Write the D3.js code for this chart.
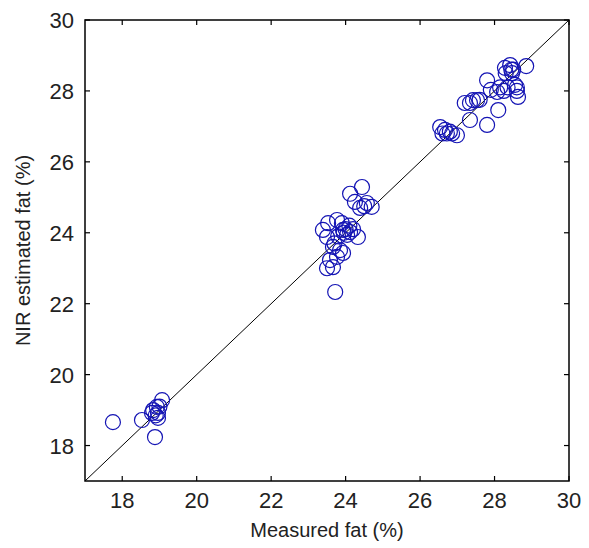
<!DOCTYPE html>
<html>
<head>
<meta charset="utf-8">
<script src="https://cdn.jsdelivr.net/npm/d3@7"></script>
<style>
  body { margin: 0; background: #fff; }
  text { font-family: "Liberation Sans", Arial, sans-serif; fill: #222; }
</style>
</head>
<body>
<div id="viz"></div>
<script>
(function () {
  // measured fat (%) vs NIR estimated fat (%)
  var measured = [
    17.75, 18.53, 18.88, 19.07, 18.93, 18.83, 18.96, 18.96, 18.80, 19.00, 18.90,
    23.72,
    24.44, 24.12, 24.57, 24.70, 24.39, 24.25, 23.53, 23.77, 23.93, 24.12,
    24.04, 24.33, 23.90, 23.39, 23.50, 23.66, 23.85, 23.77, 23.58, 23.50,
    23.66, 23.93, 24.00, 24.10, 23.95, 24.20, 23.70, 23.80, 24.50,
    26.54, 26.67, 26.86, 26.99, 26.72, 26.60, 26.80,
    28.85, 28.42, 28.47, 28.28, 28.60, 28.63, 28.55, 27.80, 28.15, 28.07,
    27.90, 28.10, 27.80, 27.42, 27.34, 27.53, 27.20, 27.34, 28.60, 28.50,
    28.30, 28.45, 28.35, 28.25, 27.60
  ];
  var estimated = [
    18.66, 18.72, 18.24, 19.28, 19.09, 19.00, 18.92, 18.78, 18.92, 19.10, 18.85,
    22.33,
    25.29, 25.10, 24.84, 24.73, 24.70, 24.87, 24.27, 24.36, 24.08, 24.02,
    23.94, 23.88, 24.27, 24.08, 23.88, 23.60, 23.51, 23.32, 23.23, 23.00,
    23.03, 23.43, 24.10, 24.20, 24.00, 24.10, 23.70, 23.90, 24.75,
    26.98, 26.90, 26.80, 26.75, 26.80, 26.80, 26.85,
    28.70, 28.73, 28.50, 28.65, 28.00, 27.83, 28.17, 28.30, 28.10, 27.97,
    28.03, 27.46, 27.04, 27.74, 27.66, 27.74, 27.66, 27.18, 28.10, 28.60,
    28.50, 28.60, 28.10, 28.00, 27.75
  ];
  var ticks = [18, 20, 22, 24, 26, 28, 30];
  var xLabel = 'Measured fat (%)';
  var yLabel = 'NIR estimated fat (%)';

  var width = 589, height = 548;
  var left = 85, right = 569, top = 20, bottom = 481;

  var svg = d3.select('#viz').append('svg')
    .attr('width', width)
    .attr('height', height);

  var x = d3.scaleLinear().domain([17, 30]).range([left, right]);
  var y = d3.scaleLinear().domain([17, 30]).range([bottom, top]);

  // frame
  svg.append('rect')
    .attr('x', left).attr('y', top)
    .attr('width', right - left).attr('height', bottom - top)
    .attr('fill', '#fff')
    .attr('stroke', '#000')
    .attr('stroke-width', 1.5);

  // inward ticks on all sides
  var tl = 5;
  var tk = svg.append('g').attr('stroke', '#000').attr('stroke-width', 1.2);
  ticks.forEach(function (t) {
    tk.append('line').attr('x1', x(t)).attr('x2', x(t)).attr('y1', bottom).attr('y2', bottom - tl);
    tk.append('line').attr('x1', x(t)).attr('x2', x(t)).attr('y1', top).attr('y2', top + tl);
    tk.append('line').attr('y1', y(t)).attr('y2', y(t)).attr('x1', left).attr('x2', left + tl);
    tk.append('line').attr('y1', y(t)).attr('y2', y(t)).attr('x1', right).attr('x2', right - tl);
  });

  svg.append('g').selectAll('text')
    .data(ticks).enter().append('text')
    .attr('x', function (d) { return x(d); })
    .attr('y', bottom + 27)
    .attr('text-anchor', 'middle')
    .attr('font-size', 22)
    .text(function (d) { return d; });

  svg.append('g').selectAll('text')
    .data(ticks).enter().append('text')
    .attr('x', left - 11)
    .attr('y', function (d) { return y(d) + 8; })
    .attr('text-anchor', 'end')
    .attr('font-size', 22)
    .text(function (d) { return d; });

  // 1:1 line
  svg.append('line')
    .attr('x1', x(17)).attr('y1', y(17))
    .attr('x2', x(30)).attr('y2', y(30))
    .attr('stroke', '#000')
    .attr('stroke-width', 1);

  svg.append('g').selectAll('circle')
    .data(measured).enter().append('circle')
    .attr('cx', function (d) { return x(d); })
    .attr('cy', function (d, i) { return y(estimated[i]); })
    .attr('r', 7.5)
    .attr('fill', 'none')
    .attr('stroke', '#1414b4')
    .attr('stroke-width', 1.2);

  svg.append('text')
    .attr('x', (left + right) / 2)
    .attr('y', 537)
    .attr('text-anchor', 'middle')
    .attr('font-size', 20)
    .text(xLabel);

  svg.append('text')
    .attr('transform', 'translate(30,' + ((top + bottom) / 2) + ') rotate(-90)')
    .attr('text-anchor', 'middle')
    .attr('font-size', 20)
    .text(yLabel);
})();
</script>
</body>
</html>
